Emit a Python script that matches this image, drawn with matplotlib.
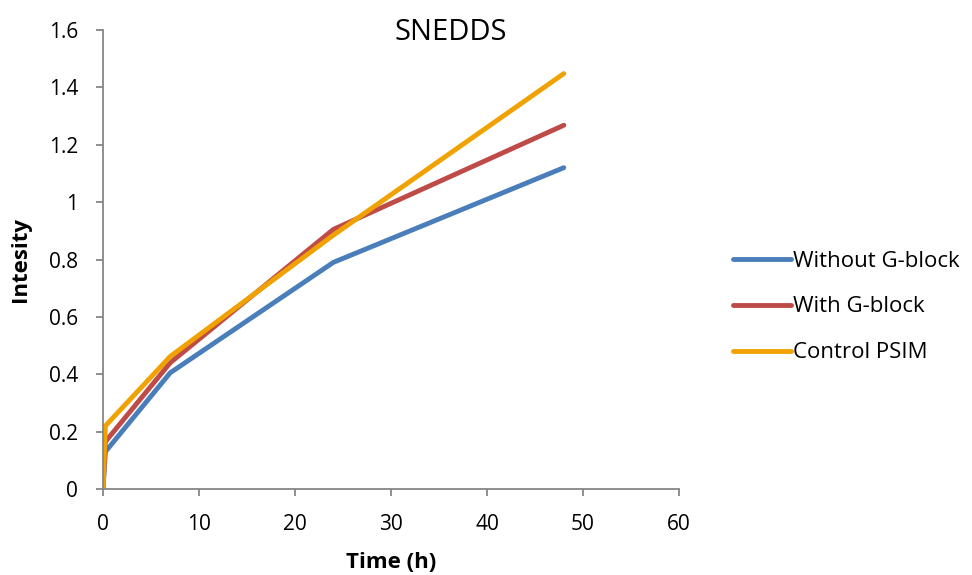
import matplotlib.pyplot as plt
from matplotlib.ticker import FuncFormatter

time_h = [0, 0.25, 7, 24, 48]
without_gblock = [0, 0.13, 0.405, 0.79, 1.12]
with_gblock = [0, 0.165, 0.44, 0.905, 1.268]
control_psim = [0, 0.22, 0.462, 0.885, 1.448]

series = [
    ("Without G-block", without_gblock, "#4A7EBB"),
    ("With G-block", with_gblock, "#BE4B48"),
    ("Control PSIM", control_psim, "#F0A202"),
]

plt.rcParams['font.family'] = ['Open Sans', 'DejaVu Sans']

fig = plt.figure(figsize=(9.72, 5.75), dpi=100)
ax = fig.add_axes([103/972, 1 - 489/575, 576/972, 459/575])

for name, vals, col in series:
    ax.plot(time_h, vals, color=col, lw=3.5, label=name, solid_capstyle='round')

ax.set_xlim(0, 60)
ax.set_ylim(0, 1.6)
ax.set_xticks(range(0, 61, 10))
ax.set_yticks([0, 0.2, 0.4, 0.6, 0.8, 1.0, 1.2, 1.4, 1.6])
ax.yaxis.set_major_formatter(FuncFormatter(lambda v, p: f"{v:g}"))

for s in ['top', 'right']:
    ax.spines[s].set_visible(False)
for s in ['left', 'bottom']:
    ax.spines[s].set_color('#868686')
    ax.spines[s].set_linewidth(1.3)
ax.tick_params(direction='out', length=5, width=1.3, color='#868686',
               labelsize=15)
ax.tick_params(axis='x', pad=13)
ax.tick_params(axis='y', pad=13)

ax.set_xlabel("Time (h)", fontsize=16, fontweight='bold', va='center')
ax.set_ylabel("Intesity", fontsize=16, fontweight='bold', va='center')
ax.xaxis.set_label_coords(0.5, (489 - 563) / 459)
ax.yaxis.set_label_coords((20 - 103) / 576, 0.5)

fig.text(451/972, 1 - 32/575, "SNEDDS", fontsize=21, ha='center', va='center')

leg = fig.legend(loc='center left', bbox_to_anchor=(713/972, 1 - 307/575),
                 frameon=False, fontsize=16, handlelength=2.6,
                 labelspacing=1.12, handletextpad=0.1)

fig.savefig("out.png", dpi=100)
